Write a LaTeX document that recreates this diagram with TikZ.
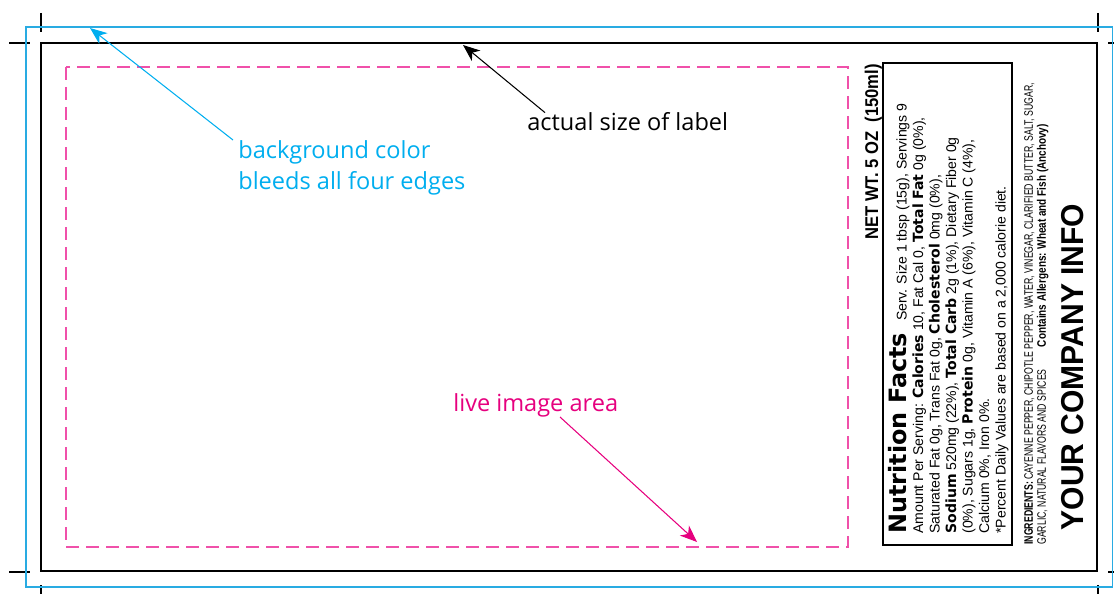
\documentclass[tikz,border=0pt]{standalone}
\usepackage{fontspec}
\usetikzlibrary{arrows.meta}
\setmainfont{Liberation Sans}
\newfontfamily\notefont{Open Sans}
\newfontfamily\heavyfont{DejaVu Sans}
\newfontfamily\netwtfont[FakeStretch=0.9]{Liberation Sans}
\newfontfamily\ingredfont[FakeStretch=0.71]{Liberation Sans}
\newfontfamily\allergenfont[FakeStretch=0.81]{Liberation Sans}
\newfontfamily\companyfont[FakeStretch=0.95]{Liberation Sans}
\definecolor{bleedcyan}{RGB}{41,171,226}
\definecolor{notecyan}{RGB}{0,174,239}
\definecolor{livepink}{RGB}{230,0,126}
\definecolor{dashpink}{RGB}{240,80,170}
\newcommand{\factbf}[1]{{\heavyfont\bfseries #1}}

\begin{document}
\begin{tikzpicture}[x=0.2mm,y=-0.2mm,
    note/.style={font=\notefont\fontsize{13.4}{18}\selectfont,inner sep=0pt,align=left},
    crop/.style={black,line width=0.6pt},
    pointer/.style={-{Stealth[length=3.4mm,width=2.7mm,inset=1mm]},line width=0.6pt}]
    \useasboundingbox (0,0) rectangle (1114,594);
    % crop marks
    \draw[crop] (41,13) -- (41,32);
    \draw[crop] (9,43) -- (30,43);
    \draw[crop] (1098,13) -- (1098,32);
    \draw[crop] (1108,43) -- (1114,43);
    \draw[crop] (9,572) -- (30,572);
    \draw[crop] (41,585) -- (41,594);
    \draw[crop] (1108,572) -- (1114,572);
    \draw[crop] (1098,585) -- (1098,594);
    % bleed, label and live area
    \draw[bleedcyan,line width=0.8pt] (26,27) rectangle (1112.5,587);
    \draw[line width=0.7pt] (41,43) rectangle (1097,571);
    \draw[dashpink,line width=0.7pt,dash pattern=on 2.6mm off 1.4mm] (66,67) rectangle (848,547);
    % label text
    \node[rotate=90,anchor=base west,inner sep=0pt,font=\netwtfont\bfseries\fontsize{10.5}{12}\selectfont] (netwt) at (878,240) {NET WT. 5 OZ\ \ (150ml)};
    \draw[line width=0.7pt] (883,63) rectangle (1012,545);
    \node[rotate=90,anchor=north west,inner sep=0pt,align=left,font=\fontsize{8}{9.4}\selectfont] (facts) at (888,534) {%
        {\heavyfont\bfseries\fontsize{13.6}{9.4}\selectfont Nutrition Facts}\hspace{2.4mm}Serv. Size 1 tbsp (15g), Servings 9\\
        Amount Per Serving: \factbf{Calories} 10, Fat Cal 0, \factbf{Total Fat} 0g (0\%),\\
        Saturated Fat 0g, Trans Fat 0g, \factbf{Cholesterol} 0mg (0\%),\\
        \factbf{Sodium} 520mg (22\%), \factbf{Total Carb} 2g (1\%), Dietary Fiber 0g\\
        (0\%), Sugars 1g, \factbf{Protein} 0g, Vitamin A (6\%), Vitamin C (4\%),\\
        Calcium 0\%, Iron 0\%.\\
        *Percent Daily Values are based on a 2,000 calorie diet.};
    \node[rotate=90,anchor=north west,inner sep=0pt,align=left,font=\ingredfont\fontsize{7}{7.4}\selectfont] (ingred) at (1024,545) {%
        \textbf{INGREDIENTS:} CAYENNE PEPPER, CHIPOTLE PEPPER, WATER, VINEGAR, CLARIFIED BUTTER, SALT, SUGAR,\\
        GARLIC, NATURAL FLAVORS AND SPICES\hspace{1.8em}{\allergenfont\bfseries Contains Allergens: Wheat and Fish (Anchovy)}};
    \node[rotate=90,inner sep=0pt,font=\companyfont\bfseries\fontsize{18}{20}\selectfont] (company) at (1073,367) {YOUR COMPANY INFO};
    % notes
    \node[note,text=notecyan,anchor=north west] (bleednote) at (238,140) {background color\\bleeds all four edges};
    \node[note,anchor=base west] (sizenote) at (527,131) {actual size of label};
    \node[note,text=livepink,anchor=base west] (livenote) at (453,411) {live image area};
    \coordinate (bleedtip) at (90,28);
    \coordinate (sizetip) at (463,45);
    \coordinate (livetip) at (697,542);
    \draw[pointer,notecyan] ([xshift=-1mm]bleednote.north west) -- (bleedtip);
    \draw[pointer] ([xshift=3.6mm]sizenote.north west) -- (sizetip);
    \draw[pointer,livepink] ([xshift=21.4mm]livenote.south west) -- (livetip);
\end{tikzpicture}
\end{document}
